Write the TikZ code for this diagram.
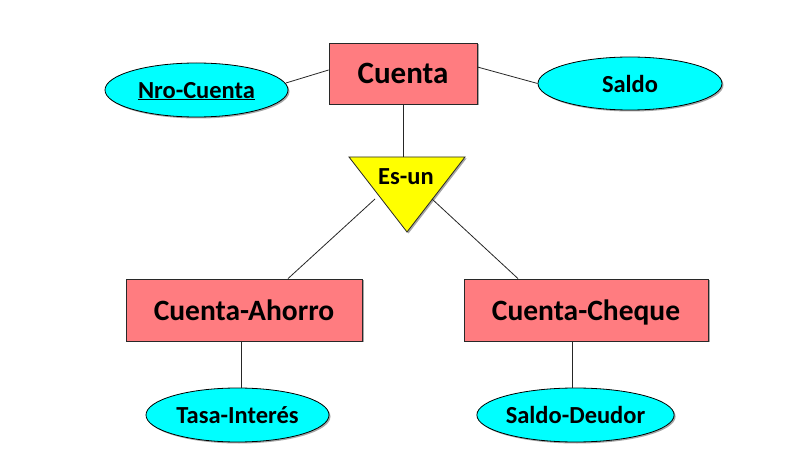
\documentclass[tikz,border=0pt]{standalone}
\usepackage{fontspec}
\setmainfont{Carlito}
\usetikzlibrary{shapes.geometric,shadows}
\definecolor{entfill}{RGB}{255,124,128}
\definecolor{attfill}{RGB}{0,255,255}
\definecolor{isafill}{RGB}{255,255,0}
\definecolor{edgecol}{RGB}{40,40,40}
\tikzset{
  shad/.style={drop shadow={shadow xshift=1.5pt,shadow yshift=-1.5pt,opacity=0.35,fill=black}},
  entity/.style={draw=edgecol,line width=0.8pt,fill=entfill,rectangle,inner sep=0pt,text depth=0pt,shad,font=\bfseries\fontsize{29.5}{31}\selectfont},
  attr/.style={draw=black,line width=0.8pt,fill=attfill,ellipse,inner sep=0pt,text depth=0pt,shad,font=\bfseries\fontsize{24.5}{26}\selectfont},
  conn/.style={draw=black!85,line width=0.8pt},
}
\begin{document}
\begin{tikzpicture}[x=1pt,y=-1pt]
\useasboundingbox (0,0) rectangle (796,465);
% entities
\node[entity,minimum width=148pt,minimum height=61pt,font=\bfseries\fontsize{31}{33}\selectfont] (cuenta) at (403,73.5) {Cuenta};
\node[entity,minimum width=236pt,minimum height=62pt] (ahorro) at (244,310) {Cuenta-Ahorro};
\node[entity,minimum width=244pt,minimum height=62pt] (cheque) at (586,310) {Cuenta-Cheque};
% attributes
\node[attr,minimum width=183pt,minimum height=54pt] (nro) at (196.5,90) {\underline{Nro-Cuenta}};
\node[attr,minimum width=184pt,minimum height=53pt] (saldo) at (630,83.5) {Saldo};
\node[attr,minimum width=183pt,minimum height=54pt] (tasa) at (237.5,415) {Tasa-Interés};
\node[attr,minimum width=183pt,minimum height=54pt] (deudor) at (575.5,415) {Saldo-Deudor};
% isa triangle
\coordinate (tl) at (349,157);
\coordinate (tr) at (465,157);
\coordinate (tb) at (407,232);
\coordinate (ttop) at (403,157);
\coordinate (tleft) at (375,199);
\coordinate (tright) at (432,199);
\fill[black,opacity=0.35] ([xshift=1.5pt,yshift=-1.5pt]tl) -- ([xshift=1.5pt,yshift=-1.5pt]tr) -- ([xshift=1.5pt,yshift=-1.5pt]tb) -- cycle;
\draw[draw=edgecol,line width=0.8pt,fill=isafill] (tl) -- (tr) -- (tb) -- cycle;
\node[font=\bfseries\fontsize{24.5}{26}\selectfont] (esun) at (406,177) {Es-un};
% connectors
\draw[conn] ([xshift=-2.5pt,yshift=7pt]nro.east) -- ([yshift=3.5pt]cuenta.west);
\draw[conn] ([yshift=6.5pt]cuenta.east) -- (saldo.west);
\draw[conn] (cuenta.south) -- (ttop);
\draw[conn] (tleft) -- ([xshift=44pt]ahorro.north);
\draw[conn] (tright) -- ([xshift=-68pt]cheque.north);
\draw[conn] ([xshift=-3pt]ahorro.south) -- ([xshift=3.5pt]tasa.north);
\draw[conn] ([xshift=-14pt]cheque.south) -- ([xshift=-3.5pt]deudor.north);
\end{tikzpicture}
\end{document}
